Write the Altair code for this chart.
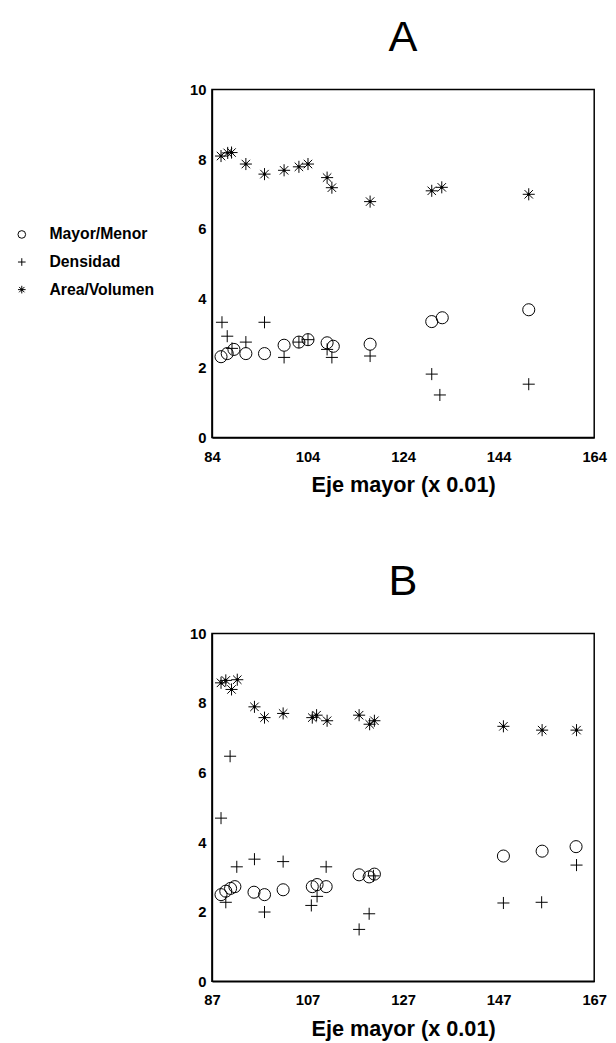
import altair as alt
import pandas as pd

series_names = ["Mayor/Menor", "Densidad", "Area/Volumen"]

# Panel A
A_x_mm = [85.9, 87.2, 88.6, 91.1, 95.0, 99.1, 102.2, 104.1, 108.1, 109.4, 117.1, 130.0, 132.2, 150.3]
A_y_mm = [2.32, 2.41, 2.53, 2.41, 2.41, 2.65, 2.74, 2.81, 2.72, 2.62, 2.68, 3.33, 3.44, 3.67]
A_x_den = [86.1, 87.2, 88.2, 91.1, 95.0, 99.1, 102.2, 104.1, 108.1, 109.1, 117.1, 130.0, 131.7, 150.3]
A_y_den = [3.31, 2.91, 2.56, 2.74, 3.31, 2.30, 2.74, 2.81, 2.53, 2.30, 2.34, 1.82, 1.22, 1.53]
A_x_av = [85.9, 87.3, 88.1, 91.1, 95.0, 99.1, 102.2, 104.1, 108.1, 109.1, 117.1, 130.0, 132.1, 150.3]
A_y_av = [8.09, 8.18, 8.19, 7.86, 7.57, 7.68, 7.78, 7.86, 7.47, 7.18, 6.78, 7.09, 7.19, 6.99]

# Panel B
B_x_mm = [88.9, 89.9, 90.9, 91.8, 95.8, 98.0, 101.9, 108.0, 109.0, 110.9, 117.8, 119.9, 121.0, 148.0, 156.1, 163.2]
B_y_mm = [2.49, 2.59, 2.67, 2.72, 2.56, 2.49, 2.63, 2.72, 2.78, 2.72, 3.06, 3.00, 3.08, 3.60, 3.74, 3.87]
B_x_den = [88.9, 89.9, 90.8, 92.2, 95.9, 98.0, 101.9, 107.8, 109.0, 110.9, 117.8, 119.9, 120.8, 148.0, 156.0, 163.3]
B_y_den = [4.69, 2.27, 6.47, 3.29, 3.51, 1.99, 3.44, 2.18, 2.44, 3.29, 1.49, 1.94, 3.03, 2.25, 2.27, 3.34]
B_x_av = [88.9, 89.9, 91.1, 92.3, 95.9, 98.0, 101.9, 108.0, 108.9, 111.1, 117.8, 120.0, 121.0, 148.0, 156.1, 163.3]
B_y_av = [8.58, 8.65, 8.39, 8.67, 7.89, 7.58, 7.70, 7.58, 7.65, 7.49, 7.65, 7.39, 7.49, 7.33, 7.22, 7.22]

A_ticks = [84, 104, 124, 144, 164]
B_ticks = [87, 107, 127, 147, 167]
y_ticks = [0, 2, 4, 6, 8, 10]


def make_df(xs, ys):
    rows = []
    for name, x, y in zip(series_names, xs, ys):
        for xv, yv in zip(x, y):
            rows.append({"x": xv, "y": yv, "serie": name})
    return pd.DataFrame(rows)


dfA = make_df([A_x_mm, A_x_den, A_x_av], [A_y_mm, A_y_den, A_y_av])
dfB = make_df([B_x_mm, B_x_den, B_x_av], [B_y_mm, B_y_den, B_y_av])

PLUS = "M-1,0L1,0M0,-1L0,1"
STAR = ("M-1,0L1,0M0,-1L0,1M-0.7,-0.7L0.7,0.7M-0.7,0.7L0.7,-0.7"
        "M-0.15,-0.15L0.15,-0.15L0.15,0.15L-0.15,0.15Z")
shape_scale = alt.Scale(domain=series_names, range=["circle", PLUS, STAR])

FONT = "Liberation Sans"


def axis_x(ticks):
    return alt.Axis(values=ticks, title="Eje mayor (x 0.01)", grid=False, ticks=False, tickSize=0,
                    labelPadding=12, labelFont=FONT, labelFontWeight="bold", labelFontSize=15,
                    labelColor="black", titleFont=FONT, titleFontWeight="bold", titleFontSize=22,
                    titleColor="black", titlePadding=11, domainColor="black", domainWidth=1.5,
                    labelFlush=False)


axis_y = alt.Axis(values=y_ticks, title=None, grid=False, ticks=False, tickSize=0, labelPadding=6,
                  labelFont=FONT, labelFontWeight="bold", labelFontSize=15, labelColor="black",
                  domainColor="black", domainWidth=1.5)


def panel(df, ticks, title, legend):
    return alt.Chart(df).mark_point(filled=False, color="black", strokeWidth=1, size=150, opacity=1).encode(
        x=alt.X("x:Q", scale=alt.Scale(domain=[ticks[0], ticks[-1]], nice=False, zero=False), axis=axis_x(ticks)),
        y=alt.Y("y:Q", scale=alt.Scale(domain=[0, 10], nice=False), axis=axis_y),
        shape=alt.Shape("serie:N", scale=shape_scale, legend=legend),
    ).properties(
        width=388, height=353,
        title=alt.TitleParams(title, font=FONT, fontSize=44, fontWeight="normal", color="black",
                              anchor="middle", frame="group", offset=23),
    )


legendA = alt.Legend(title=None, orient="none", legendX=-201, legendY=139, labelFont=FONT,
                     labelFontWeight="bold", labelFontSize=16, labelColor="black", symbolSize=60,
                     symbolStrokeColor="black", symbolStrokeWidth=1, rowPadding=12, labelOffset=20)

chA = panel(dfA, A_ticks, "A", legendA)
chB = panel(dfB, B_ticks, "B", None)

chart = alt.vconcat(chA, chB, spacing=199, bounds="flush").resolve_scale(
    x="independent", shape="independent"
).resolve_legend(shape="independent").properties(
    padding={"top": 0, "left": 5, "right": 0, "bottom": 5}
).configure_view(stroke="black", strokeWidth=1.5)

chart.save("out.html", embed_options={"renderer": "svg", "actions": False})
